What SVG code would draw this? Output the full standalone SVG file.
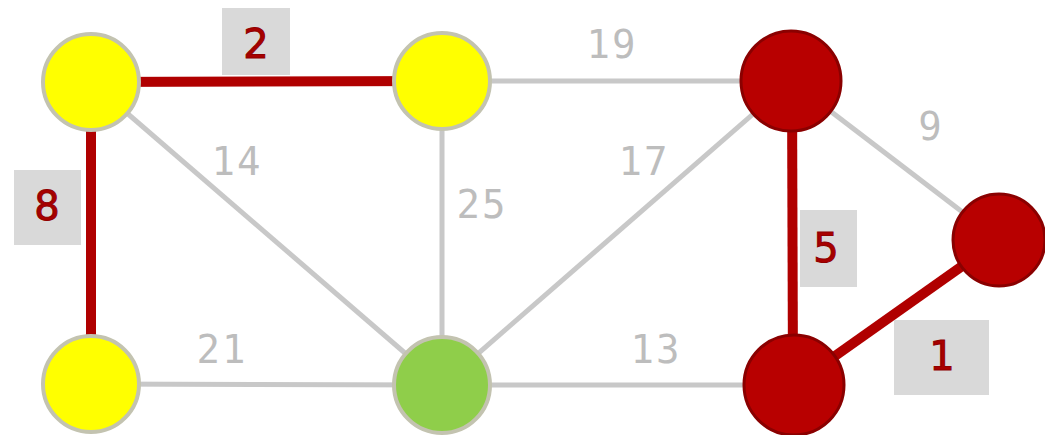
<svg xmlns="http://www.w3.org/2000/svg" width="1045" height="435" viewBox="0 0 1045 435">
<style>
.g{stroke:#c8c8c8;stroke-width:5;fill:none}
.r{stroke:#b00000;stroke-width:10;fill:none}
.box{fill:#d9d9d9}
.gl{font-family:"DejaVu Sans Mono",monospace;font-size:39px;fill:#bdbdbd;text-anchor:middle;letter-spacing:2px}
.rl{font-family:"DejaVu Sans",sans-serif;font-size:40px;fill:#a80000;stroke:#900000;stroke-width:1;text-anchor:middle}
.ny{fill:#ffff00;stroke:#c3c3b0;stroke-width:4}
.ng{fill:#8fce4a;stroke:#c3c3b0;stroke-width:4}
.nr{fill:#b80000;stroke:#8a0000;stroke-width:3}
</style>
<rect width="1045" height="435" fill="#ffffff"/>
<g id="connectors">
<line class="g" x1="442" y1="81" x2="791" y2="81"/>
<line class="g" x1="791" y1="81" x2="999" y2="240"/>
<line class="g" x1="91" y1="82" x2="442" y2="385"/>
<line class="g" x1="442" y1="81" x2="442" y2="385"/>
<line class="g" x1="791" y1="81" x2="442" y2="385"/>
<line class="g" x1="91" y1="384" x2="442" y2="385"/>
<line class="g" x1="442" y1="385" x2="794" y2="385"/>
<line class="r" x1="91" y1="82" x2="442" y2="81"/>
<line class="r" x1="91" y1="82" x2="91" y2="384"/>
<line class="r" x1="792" y1="81" x2="793" y2="385"/>
<line class="r" x1="999" y1="240" x2="794" y2="385" stroke-width="13"/>
<rect class="box" x="222" y="8" width="68" height="67"/>
<text class="rl" x="256" y="58">2</text>
<rect class="box" x="14" y="170" width="67" height="75"/>
<text class="rl" x="47" y="220">8</text>
<rect class="box" x="800" y="210" width="57" height="77"/>
<text class="rl" x="826" y="262">5</text>
<rect class="box" x="894" y="320" width="95" height="75"/>
<text class="rl" x="942" y="370">1</text>
<text class="gl" x="612" y="58">19</text>
<text class="gl" x="931" y="140">9</text>
<text class="gl" x="237" y="175">14</text>
<text class="gl" x="482" y="218">25</text>
<text class="gl" x="644" y="175">17</text>
<text class="gl" x="222" y="363">21</text>
<text class="gl" x="656" y="363">13</text>
</g>
<g id="nA"><circle class="ny" cx="91" cy="82" r="48"/></g>
<g id="nB"><circle class="ny" cx="442" cy="81" r="48"/></g>
<g id="nC"><circle class="nr" cx="791" cy="81" r="50"/></g>
<g id="nD"><circle class="nr" cx="999" cy="240" r="46"/></g>
<g id="nE"><circle class="nr" cx="794" cy="385" r="50"/></g>
<g id="nF"><circle class="ng" cx="442" cy="385" r="48"/></g>
<g id="nG"><circle class="ny" cx="91" cy="384" r="48"/></g>
</svg>
